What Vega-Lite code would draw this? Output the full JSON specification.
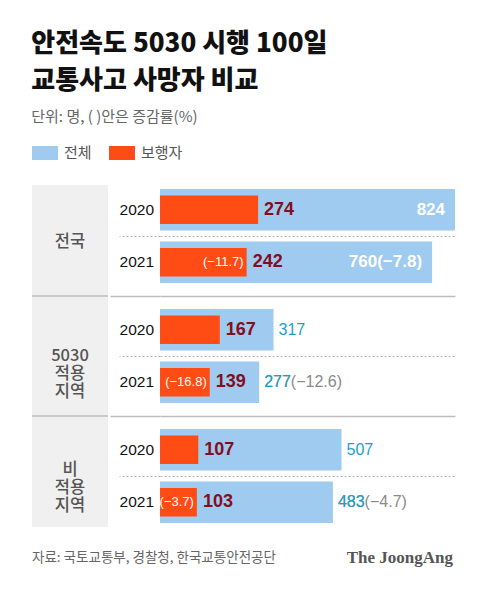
{
  "$schema": "https://vega.github.io/schema/vega-lite/v6.json",
  "background": "white",
  "padding": {"left": 31, "top": 31, "right": 10, "bottom": 10},
  "title": {
    "text": ["안전속도 5030 시행 100일", "교통사고 사망자 비교"],
    "subtitle": "단위: 명, ( )안은 증감률(%)",
    "anchor": "start",
    "font": "Noto Sans CJK KR",
    "fontSize": 26,
    "fontWeight": 900,
    "color": "#111111",
    "lineHeight": 37,
    "subtitleFont": "Noto Sans CJK KR",
    "subtitleFontSize": 15,
    "subtitleColor": "#666666",
    "subtitlePadding": 16,
    "offset": 15
  },
  "datasets": {
    "bars": [
      {"region": "전국", "year": "2020", "series": "전체", "value": 824, "change": null},
      {"region": "전국", "year": "2021", "series": "전체", "value": 760, "change": -7.8},
      {"region": "5030 적용 지역", "year": "2020", "series": "전체", "value": 317, "change": null},
      {"region": "5030 적용 지역", "year": "2021", "series": "전체", "value": 277, "change": -12.6},
      {"region": "비 적용 지역", "year": "2020", "series": "전체", "value": 507, "change": null},
      {"region": "비 적용 지역", "year": "2021", "series": "전체", "value": 483, "change": -4.7},
      {"region": "전국", "year": "2020", "series": "보행자", "value": 274, "change": null},
      {"region": "전국", "year": "2021", "series": "보행자", "value": 242, "change": -11.7},
      {"region": "5030 적용 지역", "year": "2020", "series": "보행자", "value": 167, "change": null},
      {"region": "5030 적용 지역", "year": "2021", "series": "보행자", "value": 139, "change": -16.8},
      {"region": "비 적용 지역", "year": "2020", "series": "보행자", "value": 107, "change": null},
      {"region": "비 적용 지역", "year": "2021", "series": "보행자", "value": 103, "change": -3.7}
    ],
    "regions": [
      {"region": "전국"},
      {"region": "5030 적용 지역"},
      {"region": "비 적용 지역"}
    ],
    "footer": [
      {"side": "left", "label": "자료: 국토교통부, 경찰청, 한국교통안전공단"},
      {"side": "right", "label": "The JoongAng"}
    ]
  },
  "spacing": 12,
  "vconcat": [
    {
      "spacing": 0,
      "hconcat": [
        {
          "width": 76,
          "height": 360,
          "data": {"name": "regions"},
          "layer": [
            {
              "mark": {"type": "rect", "color": "#f0f0f0"},
              "encoding": {
                "y": {"field": "region", "type": "nominal", "axis": null,
                      "scale": {"domain": ["전국", "5030 적용 지역", "비 적용 지역"], "paddingInner": 0, "paddingOuter": 0.079}}
              }
            },
            {
              "mark": {"type": "text", "lineBreak": " ", "fontSize": 16.5, "fontWeight": 500, "lineHeight": 18, "color": "#555555", "font": "Noto Sans CJK KR"},
              "encoding": {
                "y": {"field": "region", "type": "nominal", "axis": null,
                      "scale": {"type": "band", "domain": ["전국", "5030 적용 지역", "비 적용 지역"], "paddingInner": 0, "paddingOuter": 0.079}},
                "text": {"field": "region", "type": "nominal"}
              }
            },
            {
              "transform": [{"filter": "datum.region != '비 적용 지역'"}],
              "mark": {"type": "rule", "color": "#bdbdbd", "strokeWidth": 1.5},
              "encoding": {
                "y": {"field": "region", "type": "nominal", "bandPosition": 1, "axis": null,
                      "scale": {"type": "band", "domain": ["전국", "5030 적용 지역", "비 적용 지역"], "paddingInner": 0, "paddingOuter": 0}}
              }
            }
          ],
          "resolve": {"scale": {"y": "independent"}}
        },
        {
          "width": 295,
          "height": 360,
          "data": {"name": "bars"},
          "encoding": {
            "y": {"field": "region", "type": "nominal", "axis": null,
                  "scale": {"type": "band", "domain": ["전국", "5030 적용 지역", "비 적용 지역"], "paddingInner": 0, "paddingOuter": 0}},
            "yOffset": {"field": "year", "type": "nominal",
                        "scale": {"type": "band", "domain": ["2020", "2021"], "paddingInner": 0.2115, "paddingOuter": 0.25}},
            "x": {"field": "value", "type": "quantitative", "axis": null,
                  "scale": {"domain": [0, 824], "nice": false, "zero": true}}
          },
          "layer": [
            {
              "transform": [{"filter": "datum.series == '전체'"}],
              "mark": {"type": "bar"},
              "encoding": {
                "y": {"field": "region", "type": "nominal",
                      "scale": {"type": "band", "domain": ["전국", "5030 적용 지역", "비 적용 지역"], "paddingInner": 0, "paddingOuter": 0},
                      "axis": {"orient": "left", "title": null, "labels": false, "domain": false, "ticks": true,
                               "tickSize": 50, "tickColor": "#bdbdbd", "tickWidth": 1.5,
                               "grid": true, "gridColor": "#bdbdbd", "gridWidth": 1.5,
                               "bandPosition": 1, "values": ["전국", "5030 적용 지역"]}},
                "color": {"field": "series", "type": "nominal",
                          "scale": {"domain": ["전체", "보행자"], "range": ["#9ecbef", "#ff4b14"]},
                          "legend": {"title": null, "orient": "top", "direction": "horizontal",
                                     "symbolType": "M-1,-0.538H1V0.538H-1Z", "symbolSize": 676,
                                     "symbolStrokeWidth": 0, "labelOffset": 6, "columnPadding": 17,
                                     "labelFont": "Noto Sans CJK KR", "labelFontSize": 15, "labelColor": "#555555",
                                     "padding": 0, "offset": 15}}
              }
            },
            {
              "transform": [{"filter": "datum.series == '보행자'"}],
              "mark": {"type": "bar"},
              "encoding": {
                "y": {"field": "region", "type": "nominal",
                      "scale": {"type": "band", "domain": ["전국", "5030 적용 지역", "비 적용 지역"], "paddingInner": 0, "paddingOuter": 0},
                      "axis": {"orient": "left", "title": null, "labels": false, "domain": false, "ticks": true,
                               "tickSize": 41, "tickColor": "#bbbbbb", "tickWidth": 1, "tickDash": [2, 2],
                               "grid": true, "gridColor": "#bbbbbb", "gridWidth": 1, "gridDash": [2, 2],
                               "bandPosition": 0.5}},
                "yOffset": {"field": "year", "type": "nominal",
                            "scale": {"type": "band", "domain": ["2020", "2021"], "paddingInner": 0.4565, "paddingOuter": 0.372}},
                "color": {"field": "series", "type": "nominal"}
              }
            },
            {
              "transform": [{"filter": "datum.series == '전체'"}],
              "mark": {"type": "text", "align": "right", "dx": -6, "font": "Liberation Sans", "fontSize": 15.5, "color": "#111111"},
              "encoding": {
                "x": {"datum": 0, "type": "quantitative"},
                "text": {"field": "year", "type": "nominal"}
              }
            },
            {
              "transform": [{"filter": "datum.series == '보행자'"}],
              "mark": {"type": "text", "align": "left", "dx": 6, "font": "Liberation Sans", "fontSize": 18, "fontWeight": "bold", "color": "#850d20"},
              "encoding": {
                "text": {"field": "value", "type": "quantitative"}
              }
            },
            {
              "transform": [{"filter": "datum.series == '보행자' && isValid(datum.change)"}],
              "mark": {"type": "text", "align": "right", "dx": -3, "font": "Liberation Sans", "fontSize": 13, "color": "#ffffff",
                       "text": {"expr": "'(' + format(datum.change, '.1f') + ')'"}},
              "encoding": {}
            },
            {
              "transform": [{"filter": "datum.series == '전체' && datum.region == '전국'"}],
              "mark": {"type": "text", "align": "right", "dx": -10, "font": "Liberation Sans", "fontSize": 17, "fontWeight": "bold", "color": "#ffffff",
                       "text": {"expr": "isValid(datum.change) ? format(datum.value, 'd') + '(' + format(datum.change, '.1f') + ')' : format(datum.value, 'd')"}},
              "encoding": {}
            },
            {
              "transform": [{"filter": "datum.series == '전체' && datum.region != '전국' && isValid(datum.change)"}],
              "mark": {"type": "text", "align": "left", "dx": 5, "font": "Liberation Sans", "fontSize": 16, "color": "#8a8a8a",
                       "text": {"expr": "format(datum.value, 'd') + '(' + format(datum.change, '.1f') + ')'"}},
              "encoding": {}
            },
            {
              "transform": [{"filter": "datum.series == '전체' && datum.region != '전국'"}],
              "mark": {"type": "text", "align": "left", "dx": 5, "font": "Liberation Sans", "fontSize": 16, "color": "#1aa2cd"},
              "encoding": {
                "text": {"field": "value", "type": "quantitative"}
              }
            }
          ],
          "resolve": {"axis": {"y": "independent"}, "scale": {"yOffset": "independent"}}
        }
      ]
    },
    {
      "width": 421,
      "height": 20,
      "data": {"name": "footer"},
      "encoding": {
        "x": {"field": "side", "type": "nominal", "axis": null,
              "scale": {"type": "point", "domain": ["left", "right"], "padding": 0}}
      },
      "layer": [
        {
          "transform": [{"filter": "datum.side == 'left'"}],
          "mark": {"type": "text", "align": "left", "font": "Noto Sans CJK KR", "fontSize": 13.5, "color": "#666666"},
          "encoding": {
            "text": {"field": "label", "type": "nominal"}
          }
        },
        {
          "transform": [{"filter": "datum.side == 'right'"}],
          "mark": {"type": "text", "align": "right", "font": "Liberation Serif", "fontSize": 17, "fontWeight": "bold", "color": "#555555"},
          "encoding": {
            "text": {"field": "label", "type": "nominal"}
          }
        }
      ]
    }
  ],
  "config": {
    "view": {"stroke": null},
    "font": "Noto Sans CJK KR"
  }
}
